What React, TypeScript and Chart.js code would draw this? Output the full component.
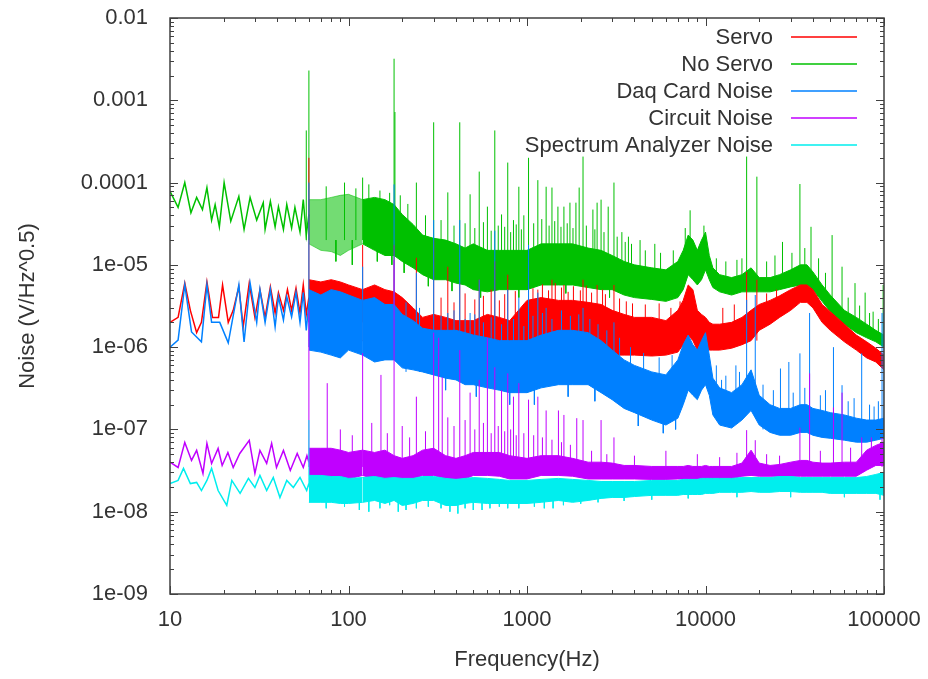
import { useEffect, useRef } from 'react';
import { Chart, registerables } from 'chart.js';

Chart.register(...registerables);

// ---------- axes ----------
const xTickValues = [10, 100, 1000, 10000, 100000];
const xTickLabels = ['10', '100', '1000', '10000', '100000'];
const yTickValues = [1e-9, 1e-8, 1e-7, 1e-6, 1e-5, 1e-4, 1e-3, 1e-2];
const yTickLabels = ['1e-09', '1e-08', '1e-07', '1e-06', '1e-05', '0.0001', '0.001', '0.01'];

const seriesNames = ['Servo', 'No Servo', 'Daq Card Noise', 'Circuit Noise', 'Spectrum Analyzer Noise'];
const seriesColors = ['#ff0000', '#00c000', '#0080ff', '#c000ff', '#00eeee'];

// ---------- low-frequency traces (10–60 Hz) ----------
const redLowHz = [10, 11.1, 12.1, 13.0, 14.1, 15.0, 16.1, 17.3, 18.7, 19.7, 21.2, 22.6, 24.3, 25.7, 27.8, 29.9, 31.9, 34.1, 36.5, 38.8, 40.5, 43.2, 45.5, 48.0, 50.8, 53.5, 55.8, 58.0, 60];
const redLowVal = [2.0e-6, 2.3e-6, 6.0e-6, 2.8e-6, 1.5e-6, 2.0e-6, 6.2e-6, 2.3e-6, 2.3e-6, 5.7e-6, 2.0e-6, 2.8e-6, 5.4e-6, 1.76e-6, 6.0e-6, 2.3e-6, 5.0e-6, 2.3e-6, 5.4e-6, 2.6e-6, 4.6e-6, 2.8e-6, 5.0e-6, 2.8e-6, 5.2e-6, 2.6e-6, 5.7e-6, 2.5e-6, 4.0e-6];

const greenLowHz = [10, 11.1, 12.1, 13.1, 14.1, 15.2, 16.1, 17.1, 17.9, 18.9, 20.1, 21.9, 24.3, 26.0, 28.1, 30.6, 33.3, 34.1, 36.5, 38.8, 40.5, 43.2, 45.1, 48.0, 50.1, 53.5, 55.8, 58.0, 60];
const greenLowVal = [7.8e-5, 5.0e-5, 1.0e-4, 4.3e-5, 6.6e-5, 4.7e-5, 8.7e-5, 3.5e-5, 5.4e-5, 2.9e-5, 1.0e-4, 3.4e-5, 6.8e-5, 2.7e-5, 6.6e-5, 3.5e-5, 5.7e-5, 2.7e-5, 5.9e-5, 2.9e-5, 5.1e-5, 2.7e-5, 5.4e-5, 2.8e-5, 5.0e-5, 2.5e-5, 6.2e-5, 2.3e-5, 4.1e-5];

const blueLowHz = [10, 11.1, 12.1, 13.2, 15.0, 16.1, 17.1, 19.0, 21.2, 24.3, 26.0, 28.1, 30.6, 31.9, 34.1, 36.5, 38.8, 40.5, 43.2, 45.1, 48.0, 50.8, 53.5, 55.8, 58.0, 60];
const blueLowVal = [1.0e-6, 1.22e-6, 5.7e-6, 1.53e-6, 1.16e-6, 5.7e-6, 2.0e-6, 2.0e-6, 1.13e-6, 5.7e-6, 1.16e-6, 6.0e-6, 2.0e-6, 5.0e-6, 2.0e-6, 5.0e-6, 1.76e-6, 4.1e-6, 2.14e-6, 4.1e-6, 2.33e-6, 4.6e-6, 2.0e-6, 4.6e-6, 1.6e-6, 3.5e-6];

const purpleLowHz = [10, 11.1, 12.1, 13.2, 14.1, 15.3, 16.1, 17.1, 18.6, 19.6, 21.1, 22.6, 24.6, 27.8, 29.9, 31.9, 34.8, 37.1, 39.5, 43.2, 47.2, 51.6, 55.8, 58.5, 60];
const purpleLowVal = [4.0e-8, 3.45e-8, 6.95e-8, 4.2e-8, 5.56e-8, 2.92e-8, 6.76e-8, 3.86e-8, 5.87e-8, 3.65e-8, 5.25e-8, 3.45e-8, 5.1e-8, 7.35e-8, 2.92e-8, 5.56e-8, 3.86e-8, 6.76e-8, 3.45e-8, 5.56e-8, 3.17e-8, 5.1e-8, 3.45e-8, 4.8e-8, 4.0e-8];

const cyanLowHz = [10, 11.1, 11.9, 13.0, 14.1, 15.0, 16.1, 17.1, 18.6, 20.8, 22.2, 24.7, 27.5, 29.9, 31.9, 34.8, 37.9, 41.3, 45.1, 49.1, 53.5, 58.3, 60];
const cyanLowVal = [2.2e-8, 2.4e-8, 3.36e-8, 2.2e-8, 2.27e-8, 1.81e-8, 2.4e-8, 3.36e-8, 1.81e-8, 1.19e-8, 2.4e-8, 1.67e-8, 2.54e-8, 1.97e-8, 2.76e-8, 1.81e-8, 2.61e-8, 1.49e-8, 2.4e-8, 1.97e-8, 2.61e-8, 1.81e-8, 2.2e-8];

// ---------- dense band (60 Hz – 100 kHz): upper / lower envelope ----------
const bandHz = [60, 70, 80, 90, 100, 120, 140, 160, 180, 200, 230, 260, 300, 350, 400, 450, 500, 600, 700, 800, 1000, 1200, 1500, 1800, 2200, 2600, 3000, 3500, 4000, 5000, 6000, 7000, 7500, 8000, 8500, 9000, 9500, 10000, 10500, 11000, 12000, 14000, 16000, 18000, 20000, 23000, 26000, 30000, 34000, 37000, 40000, 45000, 50000, 60000, 70000, 80000, 90000, 100000];

const redHi = [6.6e-6, 6.2e-6, 6.6e-6, 6.2e-6, 5.7e-6, 5.0e-6, 5.7e-6, 5.0e-6, 4.7e-6, 4.0e-6, 3.0e-6, 2.3e-6, 2.5e-6, 2.3e-6, 2.1e-6, 2.1e-6, 2.1e-6, 2.5e-6, 2.3e-6, 2.1e-6, 3.7e-6, 4.0e-6, 3.7e-6, 3.7e-6, 3.5e-6, 3.3e-6, 2.8e-6, 2.5e-6, 2.3e-6, 2.3e-6, 2.1e-6, 2.8e-6, 3.7e-6, 5.7e-6, 5.0e-6, 2.8e-6, 2.5e-6, 2.3e-6, 2.0e-6, 1.9e-6, 1.9e-6, 2.0e-6, 2.3e-6, 2.8e-6, 3.3e-6, 3.7e-6, 4.2e-6, 5.0e-6, 5.7e-6, 5.7e-6, 5.0e-6, 3.3e-6, 2.7e-6, 1.9e-6, 1.4e-6, 1.16e-6, 9.7e-7, 8.0e-7];
const redLo = [1.2e-6, 1.07e-6, 1.07e-6, 1.07e-6, 1.07e-6, 1.2e-6, 1.4e-6, 1.4e-6, 1.3e-6, 1.2e-6, 1.07e-6, 9.7e-7, 9.7e-7, 9.2e-7, 8.7e-7, 8.7e-7, 9.2e-7, 9.2e-7, 8.7e-7, 8.7e-7, 9.2e-7, 9.2e-7, 8.7e-7, 8.7e-7, 8.7e-7, 8.7e-7, 8.0e-7, 8.0e-7, 8.0e-7, 7.8e-7, 8.0e-7, 8.7e-7, 1.07e-6, 1.4e-6, 1.2e-6, 9.2e-7, 8.7e-7, 8.7e-7, 9.2e-7, 9.2e-7, 9.2e-7, 9.7e-7, 1.07e-6, 1.2e-6, 1.6e-6, 1.9e-6, 2.3e-6, 2.8e-6, 3.5e-6, 3.5e-6, 3.0e-6, 2.0e-6, 1.6e-6, 1.16e-6, 9.2e-7, 7.4e-7, 6.6e-7, 5.3e-7];

const greenHi = [6.2e-5, 6.2e-5, 6.6e-5, 7.0e-5, 7.2e-5, 6.2e-5, 6.6e-5, 6.2e-5, 5.4e-5, 4.1e-5, 3.1e-5, 2.3e-5, 2.1e-5, 2.0e-5, 1.8e-5, 1.6e-5, 1.8e-5, 1.5e-5, 1.5e-5, 1.5e-5, 1.5e-5, 1.8e-5, 1.8e-5, 1.8e-5, 1.6e-5, 1.5e-5, 1.3e-5, 1.1e-5, 1.0e-5, 9.2e-6, 8.7e-6, 1.1e-5, 1.5e-5, 2.3e-5, 2.0e-5, 1.5e-5, 2.0e-5, 2.5e-5, 1.3e-5, 9.2e-6, 7.6e-6, 7.0e-6, 7.6e-6, 9.2e-6, 7.0e-6, 7.0e-6, 7.6e-6, 8.7e-6, 1.0e-5, 1.0e-5, 8.2e-6, 5.7e-6, 4.3e-6, 2.8e-6, 2.3e-6, 1.9e-6, 1.6e-6, 1.4e-6];
const greenLo = [1.8e-5, 1.5e-5, 1.45e-5, 1.3e-5, 1.5e-5, 1.8e-5, 1.5e-5, 1.3e-5, 1.3e-5, 1.1e-5, 9.2e-6, 7.6e-6, 6.6e-6, 6.6e-6, 6.0e-6, 5.7e-6, 5.0e-6, 4.7e-6, 5.0e-6, 5.0e-6, 5.0e-6, 5.7e-6, 5.7e-6, 5.7e-6, 5.3e-6, 5.0e-6, 5.0e-6, 4.3e-6, 4.0e-6, 3.8e-6, 3.6e-6, 4.0e-6, 5.0e-6, 7.6e-6, 6.6e-6, 5.7e-6, 6.6e-6, 8.7e-6, 6.6e-6, 5.3e-6, 4.7e-6, 4.3e-6, 4.7e-6, 4.7e-6, 4.7e-6, 4.7e-6, 5.0e-6, 5.4e-6, 5.7e-6, 5.7e-6, 5.0e-6, 3.6e-6, 2.7e-6, 1.9e-6, 1.5e-6, 1.3e-6, 1.16e-6, 1.0e-6];

const blueHi = [5.0e-6, 4.3e-6, 5.0e-6, 4.7e-6, 4.3e-6, 3.7e-6, 4.0e-6, 3.3e-6, 3.3e-6, 2.5e-6, 2.1e-6, 1.7e-6, 1.6e-6, 1.6e-6, 1.6e-6, 1.5e-6, 1.4e-6, 1.3e-6, 1.2e-6, 1.2e-6, 1.2e-6, 1.4e-6, 1.6e-6, 1.6e-6, 1.5e-6, 1.2e-6, 9.2e-7, 7.0e-7, 6.0e-7, 5.0e-7, 4.6e-7, 7.0e-7, 1.07e-6, 1.4e-6, 1.07e-6, 9.2e-7, 1.2e-6, 1.5e-6, 8.0e-7, 4.2e-7, 3.2e-7, 2.8e-7, 3.5e-7, 5.3e-7, 2.6e-7, 2.0e-7, 1.8e-7, 1.8e-7, 2.0e-7, 2.0e-7, 1.8e-7, 1.7e-7, 1.6e-7, 1.5e-7, 1.37e-7, 1.3e-7, 1.3e-7, 1.37e-7];
const blueLo = [9.2e-7, 8.7e-7, 8.0e-7, 7.4e-7, 9.2e-7, 8.0e-7, 6.6e-7, 7.0e-7, 7.0e-7, 5.6e-7, 5.3e-7, 5.0e-7, 4.6e-7, 4.2e-7, 4.0e-7, 3.5e-7, 3.5e-7, 3.2e-7, 3.0e-7, 2.8e-7, 2.8e-7, 3.2e-7, 3.5e-7, 3.5e-7, 3.5e-7, 2.8e-7, 2.3e-7, 1.8e-7, 1.6e-7, 1.3e-7, 1.13e-7, 1.37e-7, 2.0e-7, 3.0e-7, 2.6e-7, 2.3e-7, 3.0e-7, 3.5e-7, 2.6e-7, 1.5e-7, 1.13e-7, 1.04e-7, 1.3e-7, 1.7e-7, 1.13e-7, 9.2e-8, 8.5e-8, 8.5e-8, 9.2e-8, 9.2e-8, 8.5e-8, 8.0e-8, 7.8e-8, 7.4e-8, 7.0e-8, 7.0e-8, 7.4e-8, 7.8e-8];

const purpleHi = [5.9e-8, 5.9e-8, 5.9e-8, 5.6e-8, 5.25e-8, 5.6e-8, 5.25e-8, 5.6e-8, 4.8e-8, 4.45e-8, 4.8e-8, 5.6e-8, 5.9e-8, 4.8e-8, 4.45e-8, 4.8e-8, 5.25e-8, 5.25e-8, 5.25e-8, 4.8e-8, 4.45e-8, 4.8e-8, 4.8e-8, 4.45e-8, 4.0e-8, 4.0e-8, 3.9e-8, 3.65e-8, 3.65e-8, 3.55e-8, 3.55e-8, 3.55e-8, 3.55e-8, 3.65e-8, 3.55e-8, 3.55e-8, 3.55e-8, 3.65e-8, 3.55e-8, 3.55e-8, 3.55e-8, 3.55e-8, 3.9e-8, 5.6e-8, 3.9e-8, 3.65e-8, 3.75e-8, 4.0e-8, 4.2e-8, 4.2e-8, 4.0e-8, 3.9e-8, 3.9e-8, 4.0e-8, 4.0e-8, 5.6e-8, 6.4e-8, 7.0e-8];
const purpleLo = [2.5e-8, 2.5e-8, 2.5e-8, 2.5e-8, 2.5e-8, 2.76e-8, 2.5e-8, 2.5e-8, 2.5e-8, 2.5e-8, 2.5e-8, 2.76e-8, 2.76e-8, 2.5e-8, 2.5e-8, 2.5e-8, 2.76e-8, 2.76e-8, 2.7e-8, 2.5e-8, 2.5e-8, 2.76e-8, 2.76e-8, 2.7e-8, 2.5e-8, 2.5e-8, 2.5e-8, 2.5e-8, 2.5e-8, 2.47e-8, 2.47e-8, 2.5e-8, 2.5e-8, 2.5e-8, 2.5e-8, 2.5e-8, 2.5e-8, 2.5e-8, 2.5e-8, 2.5e-8, 2.5e-8, 2.5e-8, 2.7e-8, 2.76e-8, 2.7e-8, 2.7e-8, 2.7e-8, 2.7e-8, 2.7e-8, 2.7e-8, 2.7e-8, 2.7e-8, 2.7e-8, 2.7e-8, 2.7e-8, 3.2e-8, 3.65e-8, 3.65e-8];

const cyanHi = [2.76e-8, 2.76e-8, 2.68e-8, 2.68e-8, 2.54e-8, 2.6e-8, 2.68e-8, 2.54e-8, 2.6e-8, 2.54e-8, 2.54e-8, 2.68e-8, 2.68e-8, 2.54e-8, 2.47e-8, 2.54e-8, 2.6e-8, 2.54e-8, 2.47e-8, 2.4e-8, 2.4e-8, 2.47e-8, 2.54e-8, 2.47e-8, 2.4e-8, 2.33e-8, 2.33e-8, 2.33e-8, 2.33e-8, 2.4e-8, 2.4e-8, 2.4e-8, 2.47e-8, 2.47e-8, 2.47e-8, 2.47e-8, 2.54e-8, 2.54e-8, 2.54e-8, 2.54e-8, 2.54e-8, 2.54e-8, 2.6e-8, 2.6e-8, 2.6e-8, 2.6e-8, 2.68e-8, 2.68e-8, 2.6e-8, 2.6e-8, 2.6e-8, 2.6e-8, 2.6e-8, 2.6e-8, 2.6e-8, 2.68e-8, 2.84e-8, 3.0e-8];
const cyanLo = [1.3e-8, 1.3e-8, 1.3e-8, 1.26e-8, 1.26e-8, 1.3e-8, 1.37e-8, 1.26e-8, 1.37e-8, 1.19e-8, 1.26e-8, 1.37e-8, 1.37e-8, 1.19e-8, 1.19e-8, 1.26e-8, 1.3e-8, 1.26e-8, 1.26e-8, 1.26e-8, 1.26e-8, 1.3e-8, 1.37e-8, 1.3e-8, 1.37e-8, 1.45e-8, 1.49e-8, 1.49e-8, 1.53e-8, 1.58e-8, 1.58e-8, 1.58e-8, 1.62e-8, 1.62e-8, 1.62e-8, 1.62e-8, 1.62e-8, 1.67e-8, 1.67e-8, 1.67e-8, 1.72e-8, 1.72e-8, 1.72e-8, 1.76e-8, 1.72e-8, 1.72e-8, 1.76e-8, 1.76e-8, 1.72e-8, 1.72e-8, 1.72e-8, 1.72e-8, 1.67e-8, 1.67e-8, 1.67e-8, 1.67e-8, 1.67e-8, 1.58e-8];

// ---------- line spikes (mains harmonics etc.): frequency, base, tip ----------
const redSpikeHz = [60, 120, 180, 240, 300, 360, 420, 540, 660, 780, 1020, 1150, 1380, 1610, 2060, 2470, 3070, 17000, 19400];
const redSpikeBase = [2e-6, 2e-6, 2e-6, 1.5e-6, 1.5e-6, 1.5e-6, 1.5e-6, 1.5e-6, 1.5e-6, 1.5e-6, 1.5e-6, 1.5e-6, 1.5e-6, 1.5e-6, 1.5e-6, 1.5e-6, 1.2e-6, 1.2e-6, 1.2e-6];
const redSpikeTop = [2.0e-4, 1.75e-5, 1.75e-5, 1.22e-5, 2.0e-5, 9.5e-6, 6.0e-6, 6.6e-6, 1.1e-5, 7.6e-6, 6.0e-6, 5.0e-6, 6.6e-6, 5.7e-6, 6.6e-6, 5.7e-6, 5.7e-6, 8.2e-6, 6.6e-6];

const greenSpikeHz = [58, 60, 120, 180, 182, 240, 300, 360, 420, 480, 540, 600, 660, 720, 780, 840, 900, 960, 1020, 1150, 1280, 1380, 1490, 1610, 1740, 1880, 1960, 2060, 2340, 2470, 2600, 2850, 3070, 3400, 3700, 4300, 5200, 8200, 9800, 15000, 17000, 19400, 27000, 33800, 39000, 51200, 58200, 68800, 78400, 86900, 98900];
const greenSpikeBase = [
  2e-5, 2e-5, 2e-5, 2e-5, 2e-5, 1.2e-5, 1e-5, 1e-5, 1e-5, 1e-5,
  1e-5, 1e-5, 1e-5, 1e-5, 1e-5, 1e-5, 1e-5, 1e-5, 1e-5, 1e-5,
  1e-5, 1e-5, 1e-5, 1e-5, 1e-5, 1e-5, 1e-5, 1e-5, 1e-5, 1e-5,
  1e-5, 1e-5, 8e-6, 7e-6, 7e-6, 6e-6, 6e-6, 1e-5, 1e-5, 6e-6,
  6e-6, 6e-6, 6e-6, 7e-6, 7e-6, 3.5e-6, 2.5e-6, 2e-6, 1.6e-6, 1.4e-6,
  1.2e-6,
];
const greenSpikeTop = [4.3e-4, 2.3e-3, 1.15e-4, 3.2e-3, 7.2e-4, 1.0e-4, 5.4e-4, 7.6e-5, 5.4e-4, 7.2e-5, 1.36e-4, 5.1e-5, 4.3e-4, 4.1e-5, 1.75e-4, 3.5e-5, 8.9e-5, 4.0e-5, 2.0e-4, 1.07e-4, 8.9e-5, 8.7e-5, 5.1e-5, 5.1e-5, 5.7e-5, 5.7e-5, 8.7e-5, 2.07e-4, 4.7e-5, 5.7e-5, 6.2e-5, 5.1e-5, 1.0e-4, 2.5e-5, 2.2e-5, 2.0e-5, 1.8e-5, 4.6e-5, 3.0e-5, 1.15e-5, 2.07e-4, 1.18e-4, 1.9e-5, 9.6e-5, 2.9e-5, 2.3e-5, 9.5e-6, 6.0e-6, 4.6e-6, 2.7e-6, 5.7e-6];

const blueSpikeHz = [60, 120, 180, 240, 300, 360, 420, 480, 540, 660, 780, 900, 1020, 1150, 1280, 2060, 3070, 12300, 14800, 17000, 19000, 26300, 29300, 33800, 38300, 52100, 58200, 75000, 97500, 100000];
const blueSpikeBase = [1e-6, 8e-7, 8e-7, 6e-7, 5e-7, 5e-7, 5e-7, 4e-7, 4e-7, 4e-7, 4e-7, 4e-7, 4e-7, 4e-7, 4e-7, 4e-7, 3e-7, 2e-7, 2e-7, 2e-7, 2e-7, 1.2e-7, 1.2e-7, 1.2e-7, 1.2e-7, 1e-7, 1e-7, 1e-7, 1e-7, 1e-7];
const blueSpikeTop = [1.0e-4, 9.5e-6, 9.5e-5, 8.0e-6, 3.5e-5, 2.6e-6, 3.5e-5, 2.6e-6, 6.6e-6, 2.6e-5, 5.0e-6, 4.0e-6, 1.75e-5, 4.6e-6, 3.0e-6, 3.0e-6, 2.0e-6, 4.0e-7, 6.0e-7, 3.75e-6, 4.3e-6, 5.5e-7, 6.6e-7, 8.4e-7, 2.6e-6, 1.0e-6, 3.45e-7, 8.4e-7, 2.6e-6, 2.8e-6];

const purpleSpikeHz = [60, 76, 120, 152, 180, 240, 300, 320, 335, 420, 480, 540, 600, 660, 720, 780, 840, 900, 1020, 1150, 1280, 1500, 1610, 1900, 2060, 2600, 3070, 17000, 19000, 33800, 38300, 52100, 58200, 75000, 97500];
const purpleSpikeBase = [3.5e-8, 3.5e-8, 3.5e-8, 3.5e-8, 3.5e-8, 3.5e-8, 3.5e-8, 3.5e-8, 3.5e-8, 3.5e-8, 3.5e-8, 3.5e-8, 3.5e-8, 3.5e-8, 3.5e-8, 3.5e-8, 3.5e-8, 3.5e-8, 3.5e-8, 3.5e-8, 3.5e-8, 3.5e-8, 3.5e-8, 3.5e-8, 3.5e-8, 3.5e-8, 3.5e-8, 3.5e-8, 3.5e-8, 3.5e-8, 3.5e-8, 3.5e-8, 3.5e-8, 3.5e-8, 3.5e-8];
const purpleSpikeTop = [2.8e-6, 3.65e-7, 8.45e-7, 4.6e-7, 1.15e-5, 2.5e-7, 1.5e-6, 1.3e-6, 4.3e-7, 9.2e-7, 2.8e-7, 4.0e-7, 1.3e-6, 5.7e-7, 3.0e-7, 4.8e-7, 2.5e-7, 3.65e-7, 2.3e-7, 2.5e-7, 1.7e-7, 1.7e-7, 1.5e-7, 1.37e-7, 1.3e-7, 1.3e-7, 8.0e-8, 9.8e-8, 7.4e-8, 1.05e-7, 4.8e-7, 1.85e-7, 2.8e-7, 8.0e-8, 8.0e-8];

const cyanSpikeHz = [60, 130, 210, 330, 410, 560, 900, 1400];
const cyanSpikeBase = [2.0e-8, 2.0e-8, 2.0e-8, 2.0e-8, 2.0e-8, 2.0e-8, 2.0e-8, 2.0e-8];
const cyanSpikeTop = [1.3e-7, 1.0e-8, 1.05e-8, 1.1e-8, 9.5e-9, 1.05e-8, 1.1e-8, 1.1e-8];

// ---------- small noise excursions at the band edges: frequency, start, end ----------
const redNoiseHz = [330, 390, 450, 510, 570, 630, 700, 750, 860, 1080, 1220, 1320, 1440, 1560, 1700, 1820, 1990, 2150, 2300, 2650, 2750, 3300, 3600, 3900, 4600, 5500, 6400, 7200, 12500, 14500, 22000, 25000];
const redNoiseFrom = [1.5e-6, 1.5e-6, 1.5e-6, 1.5e-6, 1.5e-6, 1.5e-6, 1.5e-6, 1.5e-6, 1.5e-6, 1.5e-6, 1.5e-6, 1.5e-6, 1.5e-6, 1.5e-6, 1.5e-6, 1.5e-6, 1.5e-6, 1.5e-6, 1.5e-6, 1.5e-6, 1.5e-6, 1.5e-6, 1.5e-6, 1.5e-6, 1.5e-6, 1.5e-6, 1.5e-6, 1.5e-6, 1.2e-6, 1.2e-6, 2.5e-6, 3.0e-6];
const redNoiseTo = [4.0e-6, 3.5e-6, 4.5e-6, 3.8e-6, 4.2e-6, 5.0e-6, 3.7e-6, 4.4e-6, 4.8e-6, 5.2e-6, 5.8e-6, 4.9e-6, 6.0e-6, 5.3e-6, 4.7e-6, 5.5e-6, 4.9e-6, 5.6e-6, 4.6e-6, 5.0e-6, 4.4e-6, 3.9e-6, 3.6e-6, 3.4e-6, 3.3e-6, 3.4e-6, 3.0e-6, 3.6e-6, 3.0e-6, 3.3e-6, 4.5e-6, 5.0e-6];

const greenNoiseHz = [75, 95, 110, 130, 150, 170, 195, 215, 270, 330, 390, 450, 510, 570, 630, 690, 750, 810, 870, 930, 1090, 1210, 1330, 1430, 1550, 1680, 1810, 2150, 2400, 2700, 3200, 3550, 3850, 4600, 5600, 6600, 7700, 11500, 13000, 16000, 22000, 24500, 30500, 36000, 43000, 47000, 63000, 73000, 83000, 93000,
  85, 105, 145, 175, 205, 280, 380, 550, 900, 1650, 2900];
const greenNoiseFrom = [2e-5, 2e-5, 2e-5, 2e-5, 2e-5, 2e-5, 2e-5, 2e-5, 1e-5, 1e-5, 1e-5, 1e-5, 1e-5, 1e-5, 1e-5, 1e-5, 1e-5, 1e-5, 1e-5, 1e-5, 1e-5, 1e-5, 1e-5, 1e-5, 1e-5, 1e-5, 1e-5, 1e-5, 1e-5, 1e-5, 7e-6, 7e-6, 7e-6, 7e-6, 7e-6, 7e-6, 7e-6, 6e-6, 6e-6, 6e-6, 6e-6, 6e-6, 6e-6, 6e-6, 6e-6, 4e-6, 2e-6, 1.6e-6, 1.4e-6, 1.2e-6,
  2e-5, 2e-5, 2e-5, 2e-5, 1.5e-5, 1e-5, 1e-5, 8e-6, 8e-6, 8e-6, 8e-6];
const greenNoiseTo = [9.0e-5, 1.0e-4, 8.5e-5, 9.5e-5, 8.0e-5, 7.5e-5, 7.0e-5, 5.5e-5, 4.0e-5, 3.5e-5, 3.0e-5, 3.2e-5, 2.8e-5, 3.3e-5, 2.6e-5, 3.0e-5, 2.9e-5, 2.5e-5, 3.1e-5, 2.7e-5, 3.2e-5, 3.6e-5, 3.0e-5, 3.4e-5, 2.9e-5, 3.2e-5, 2.8e-5, 3.0e-5, 2.7e-5, 2.5e-5, 2.2e-5, 1.9e-5, 1.8e-5, 1.5e-5, 1.4e-5, 1.5e-5, 2.8e-5, 1.2e-5, 1.1e-5, 1.2e-5, 1.1e-5, 1.3e-5, 1.4e-5, 1.6e-5, 1.2e-5, 8.0e-6, 4.0e-6, 3.2e-6, 2.6e-6, 2.2e-6,
  1.1e-5, 1.0e-5, 1.1e-5, 1.0e-5, 8.0e-6, 5.5e-6, 4.8e-6, 4.0e-6, 4.0e-6, 4.5e-6, 4.0e-6];

const blueNoiseHz = [210, 250, 330, 390, 450, 510, 570, 630, 720, 840, 960, 1080, 1220, 1380, 1560, 1750, 1950, 2250, 2500, 2800, 3300, 3800, 4500, 5500, 6500, 11500, 13000, 15500, 21000, 24000, 31000, 36000, 44000, 47000, 63000, 68000, 83000, 88000, 93000,
  350, 520, 800, 1100, 1700, 2400, 4200, 5800, 6800];
const blueNoiseFrom = [5e-7, 5e-7, 5e-7, 5e-7, 5e-7, 5e-7, 5e-7, 5e-7, 5e-7, 5e-7, 5e-7, 5e-7, 5e-7, 5e-7, 5e-7, 5e-7, 5e-7, 5e-7, 5e-7, 5e-7, 2e-7, 2e-7, 2e-7, 2e-7, 2e-7, 1.5e-7, 1.5e-7, 1.5e-7, 1e-7, 1e-7, 1e-7, 1e-7, 1e-7, 1e-7, 1e-7, 1e-7, 1e-7, 1e-7, 1e-7,
  6e-7, 5e-7, 4e-7, 4e-7, 5e-7, 4.5e-7, 2.5e-7, 2e-7, 2.2e-7];
const blueNoiseTo = [3.5e-6, 3.0e-6, 2.4e-6, 2.8e-6, 2.2e-6, 2.5e-6, 2.0e-6, 2.3e-6, 1.9e-6, 2.2e-6, 1.8e-6, 2.4e-6, 2.6e-6, 2.2e-6, 2.8e-6, 2.4e-6, 2.5e-6, 2.2e-6, 1.9e-6, 1.6e-6, 1.3e-6, 1.0e-6, 8.5e-7, 7.5e-7, 8.0e-7, 6.0e-7, 4.5e-7, 5.0e-7, 3.5e-7, 3.0e-7, 2.8e-7, 3.2e-7, 2.6e-7, 3.0e-7, 2.2e-7, 2.4e-7, 2.0e-7, 1.9e-7, 2.2e-7,
  3.0e-7, 2.5e-7, 2.0e-7, 2.0e-7, 2.5e-7, 2.2e-7, 1.1e-7, 9.0e-8, 1.0e-7];

const purpleNoiseHz = [90, 105, 135, 165, 200, 220, 270, 360, 390, 450, 510, 570, 630, 690, 750, 810, 870, 960, 1090, 1220, 1380, 1560, 1750, 2300, 2800, 4000, 6000, 9000, 12000, 15000, 22000, 26000, 44000, 65000, 85000];
const purpleNoiseFrom = [3.5e-8, 3.5e-8, 3.5e-8, 3.5e-8, 3.5e-8, 3.5e-8, 3.5e-8, 3.5e-8, 3.5e-8, 3.5e-8, 3.5e-8, 3.5e-8, 3.5e-8, 3.5e-8, 3.5e-8, 3.5e-8, 3.5e-8, 3.5e-8, 3.5e-8, 3.5e-8, 3.5e-8, 3.5e-8, 3.5e-8, 3.5e-8, 3.5e-8, 3.5e-8, 3.5e-8, 3.5e-8, 3.5e-8, 3.5e-8, 3.5e-8, 3.5e-8, 3.5e-8, 3.5e-8, 3.5e-8];
const purpleNoiseTo = [1.0e-7, 8.5e-8, 1.2e-7, 9.0e-8, 1.1e-7, 8.0e-8, 9.5e-8, 1.4e-7, 1.1e-7, 1.3e-7, 1.0e-7, 1.2e-7, 9.0e-8, 1.1e-7, 9.5e-8, 1.0e-7, 8.5e-8, 9.0e-8, 8.5e-8, 8.0e-8, 7.5e-8, 7.0e-8, 6.5e-8, 5.5e-8, 5.0e-8, 4.8e-8, 5.5e-8, 5.0e-8, 4.6e-8, 5.2e-8, 5.0e-8, 4.8e-8, 5.5e-8, 6.0e-8, 8.0e-8];

const cyanNoiseHz = [75, 95, 115, 150, 170, 190, 240, 280, 370, 450, 500, 620, 700, 780, 1100, 1250, 1600, 2000, 2500, 3500, 5000, 8000, 15000, 30000, 60000, 95000];
const cyanNoiseFrom = [2e-8, 2e-8, 2e-8, 2e-8, 2e-8, 2e-8, 2e-8, 2e-8, 2e-8, 2e-8, 2e-8, 2e-8, 2e-8, 2e-8, 2e-8, 2e-8, 2e-8, 2e-8, 2e-8, 2e-8, 2e-8, 2e-8, 2e-8, 2e-8, 2e-8, 2e-8];
const cyanNoiseTo = [1.1e-8, 1.15e-8, 1.05e-8, 1.1e-8, 1.2e-8, 1.0e-8, 1.1e-8, 1.15e-8, 1.0e-8, 1.1e-8, 1.05e-8, 1.1e-8, 1.15e-8, 1.1e-8, 1.15e-8, 1.1e-8, 1.2e-8, 1.25e-8, 1.3e-8, 1.35e-8, 1.4e-8, 1.45e-8, 1.5e-8, 1.5e-8, 1.5e-8, 1.4e-8];

// ---------- helpers ----------
const FONT = '"Liberation Sans", Arial, sans-serif';
const TEXT = '#333333';
const SOFT_BELOW_HZ = 120;

function pts(xs: number[], ys: number[]) {
  return xs.map((x, i) => ({ x, y: ys[i] }));
}
function segPts(xs: number[], from: number[], to: number[]) {
  const out: any[] = [];
  xs.forEach((x, i) => {
    out.push({ x, y: from[i] }, { x, y: to[i] }, { x, y: null });
  });
  return out;
}

const series = [
  { idx: 0, order: 4, soft: '#ff0000', lowHz: redLowHz, lowVal: redLowVal, hi: redHi, lo: redLo, sHz: redSpikeHz, sLo: redSpikeBase, sHi: redSpikeTop, nHz: redNoiseHz, nA: redNoiseFrom, nB: redNoiseTo },
  { idx: 1, order: 5, soft: 'rgba(0,192,0,0.55)', lowHz: greenLowHz, lowVal: greenLowVal, hi: greenHi, lo: greenLo, sHz: greenSpikeHz, sLo: greenSpikeBase, sHi: greenSpikeTop, nHz: greenNoiseHz, nA: greenNoiseFrom, nB: greenNoiseTo },
  { idx: 2, order: 3, soft: '#0080ff', lowHz: blueLowHz, lowVal: blueLowVal, hi: blueHi, lo: blueLo, sHz: blueSpikeHz, sLo: blueSpikeBase, sHi: blueSpikeTop, nHz: blueNoiseHz, nA: blueNoiseFrom, nB: blueNoiseTo },
  { idx: 3, order: 2, soft: '#c000ff', lowHz: purpleLowHz, lowVal: purpleLowVal, hi: purpleHi, lo: purpleLo, sHz: purpleSpikeHz, sLo: purpleSpikeBase, sHi: purpleSpikeTop, nHz: purpleNoiseHz, nA: purpleNoiseFrom, nB: purpleNoiseTo },
  { idx: 4, order: 1, soft: '#00eeee', lowHz: cyanLowHz, lowVal: cyanLowVal, hi: cyanHi, lo: cyanLo, sHz: cyanSpikeHz, sLo: cyanSpikeBase, sHi: cyanSpikeTop, nHz: cyanNoiseHz, nA: cyanNoiseFrom, nB: cyanNoiseTo },
];

function buildDatasets() {
  const ds: any[] = [];
  series.forEach((s) => {
    const color = seriesColors[s.idx];
    const common = { borderColor: color, pointRadius: 0, tension: 0, order: s.order };
    const softSeg = (ctx: any) => (ctx.p1.parsed.x <= SOFT_BELOW_HZ ? s.soft : undefined);
    ds.push({ ...common, label: seriesNames[s.idx], data: pts(s.lowHz, s.lowVal), borderWidth: 1.5, fill: false });
    ds.push({
      ...common,
      label: seriesNames[s.idx] + ' upper',
      data: pts(bandHz, s.hi),
      borderWidth: 1,
      backgroundColor: color,
      fill: '+1',
      segment: { backgroundColor: softSeg, borderColor: softSeg },
    });
    ds.push({
      ...common,
      label: seriesNames[s.idx] + ' lower',
      data: pts(bandHz, s.lo),
      borderWidth: 1,
      fill: false,
      segment: { borderColor: softSeg },
    });
    ds.push({ ...common, label: seriesNames[s.idx] + ' noise', data: segPts(s.nHz, s.nA, s.nB), borderWidth: 1, fill: false, spanGaps: false });
    ds.push({ ...common, label: seriesNames[s.idx] + ' lines', data: segPts(s.sHz, s.sLo, s.sHi), borderWidth: 1, fill: false, spanGaps: false });
  });
  return ds;
}

const framePlugin = {
  id: 'gpFrame',
  afterDatasetsDraw(chart: any) {
    const { ctx, chartArea: a, scales } = chart;
    const xs = scales.x;
    const ys = scales.y;
    ctx.save();
    ctx.strokeStyle = '#404040';
    ctx.lineWidth = 1;
    ctx.beginPath();
    for (let e = 1; e <= 5; e++) {
      for (let k = 1; k < 10; k++) {
        const v = k * Math.pow(10, e);
        if (v > 100000) break;
        const px = Math.round(xs.getPixelForValue(v)) + 0.5;
        const len = k === 1 ? 8 : 4;
        ctx.moveTo(px, a.bottom);
        ctx.lineTo(px, a.bottom - len);
        ctx.moveTo(px, a.top);
        ctx.lineTo(px, a.top + len);
      }
    }
    for (let e = -9; e <= -2; e++) {
      for (let k = 1; k < 10; k++) {
        if (e === -2 && k > 1) break;
        const v = k * Math.pow(10, e);
        const py = Math.round(ys.getPixelForValue(v)) + 0.5;
        const len = k === 1 ? 8 : 4;
        ctx.moveTo(a.left, py);
        ctx.lineTo(a.left + len, py);
        ctx.moveTo(a.right, py);
        ctx.lineTo(a.right - len, py);
      }
    }
    ctx.stroke();
    ctx.lineWidth = 1.5;
    ctx.strokeRect(a.left, a.top, a.right - a.left, a.bottom - a.top);
    ctx.restore();
  },
};

const legendPlugin = {
  id: 'gpLegend',
  afterDraw(chart: any) {
    const { ctx, chartArea: a } = chart;
    ctx.save();
    ctx.font = '22px ' + FONT;
    ctx.textAlign = 'right';
    ctx.textBaseline = 'middle';
    seriesNames.forEach((name, i) => {
      const y = a.top + 19 + i * 27;
      ctx.fillStyle = TEXT;
      ctx.fillText(name, a.right - 111, y + 1);
      ctx.strokeStyle = seriesColors[i];
      ctx.lineWidth = 1.5;
      ctx.beginPath();
      ctx.moveTo(a.right - 93, y);
      ctx.lineTo(a.right - 27, y);
      ctx.stroke();
    });
    ctx.restore();
  },
};

function noPad(scale: any) {
  scale.paddingTop = 0;
  scale.paddingBottom = 0;
  scale.paddingLeft = 0;
  scale.paddingRight = 0;
}

export default function App() {
  const ref = useRef<HTMLCanvasElement>(null);
  useEffect(() => {
    document.body.style.margin = '0';
    const canvas = ref.current;
    if (!canvas) return;
    const chart = new Chart(canvas, {
      type: 'line',
      data: { datasets: buildDatasets() },
      options: {
        animation: false,
        responsive: false,
        devicePixelRatio: 1,
        layout: { padding: { top: 18, right: 44, left: 0, bottom: 0 } },
        plugins: { legend: { display: false }, tooltip: { enabled: false } },
        elements: { point: { radius: 0 } },
        scales: {
          x: {
            type: 'logarithmic',
            position: 'bottom',
            min: 10,
            max: 100000,
            grid: { display: false, drawTicks: false },
            border: { display: false },
            afterBuildTicks: (scale: any) => {
              scale.ticks = xTickValues.map((v) => ({ value: v }));
            },
            afterFit: (scale: any) => {
              scale.height = 85;
              noPad(scale);
            },
            ticks: {
              autoSkip: false,
              maxRotation: 0,
              padding: 13,
              color: TEXT,
              font: { family: FONT, size: 22 },
              callback: (_v: any, i: number) => xTickLabels[i],
            },
            title: {
              display: true,
              text: 'Frequency(Hz)',
              color: TEXT,
              font: { family: FONT, size: 22 },
              padding: { top: 0, bottom: 6 },
            },
          },
          y: {
            type: 'logarithmic',
            position: 'left',
            min: 1e-9,
            max: 1e-2,
            grid: { display: false, drawTicks: false },
            border: { display: false },
            afterBuildTicks: (scale: any) => {
              scale.ticks = yTickValues.map((v) => ({ value: v }));
            },
            afterFit: (scale: any) => {
              scale.width = 170;
              noPad(scale);
            },
            ticks: {
              autoSkip: false,
              padding: 22,
              color: TEXT,
              font: { family: FONT, size: 22 },
              callback: (_v: any, i: number) => yTickLabels[i],
            },
            title: {
              display: true,
              text: 'Noise (V/Hz^0.5)',
              color: TEXT,
              font: { family: FONT, size: 22 },
              padding: { top: 15, bottom: 0 },
            },
          },
        },
      } as any,
      plugins: [framePlugin, legendPlugin],
    });
    return () => chart.destroy();
  }, []);
  return <canvas ref={ref} width={928} height={679} style={{ display: 'block' }} />;
}
